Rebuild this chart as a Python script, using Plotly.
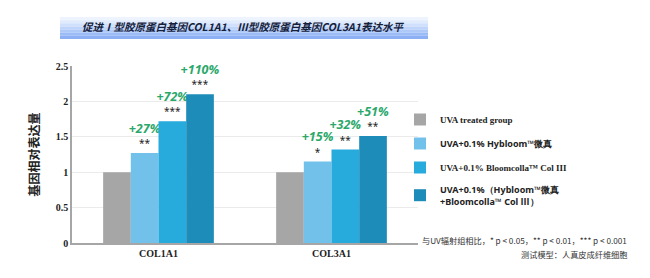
import plotly.graph_objects as go

categories = ["COL1A1", "COL3A1"]
series_names = [
    "<span style='font-family:Liberation Serif'><b>UVA treated group</b></span>",
    "<b>UVA+0.1% Hybloom™微真</b>",
    "<span style='font-family:Liberation Serif'><b>UVA+0.1% Bloomcolla™ Col III</b></span>",
    "<b>UVA+0.1%（Hybloom™微真<br>+Bloomcolla™ Col <span style='font-family:Noto Sans CJK SC'>Ⅲ</span>）</b>",
]
values = [
    [1.0, 1.0],
    [1.27, 1.15],
    [1.72, 1.32],
    [2.10, 1.51],
]
percent_labels = [
    ["", ""],
    ["+27%", "+15%"],
    ["+72%", "+32%"],
    ["+110%", "+51%"],
]
star_labels = [
    ["", ""],
    ["**", "*"],
    ["***", "**"],
    ["***", "**"],
]
colors = ["#A6A6A6", "#72C1EB", "#27AADC", "#1E8CB9"]
y_ticks = [0, 0.5, 1, 1.5, 2, 2.5]
y_tick_text = ["0", "0.5", "1", "1.5", "2", "2.5"]

# layout geometry (pixels)
W, H = 650, 278
ML, MR, MT, MB = 72, 232, 66, 35
PW, PH = W - ML - MR, H - MT - MB


def px(x):
    return (x - ML) / PW


def py(y):
    return (H - MB - y) / PH


fig = go.Figure()
for i in range(4):
    texts = []
    for j in range(len(categories)):
        if percent_labels[i][j]:
            texts.append(
                "<span style='color:#2AA86A;font-size:12.5px'><i><b>" + percent_labels[i][j]
                + "</b></i></span><br><span style='font-size:10px'>" + star_labels[i][j] + "</span>"
            )
        else:
            texts.append("")
    fig.add_trace(go.Bar(
        x=categories, y=values[i], name=series_names[i], legendgroup="g%d" % i,
        marker=dict(color=colors[i], line=dict(width=0)),
        text=texts, textposition="outside", cliponaxis=False, constraintext="none",
        textfont=dict(family="Noto Sans", size=11, color="#222222"),
        hoverinfo="skip",
    ))

fig.update_layout(
    width=W, height=H,
    margin=dict(l=ML, r=MR, t=MT, b=MB),
    paper_bgcolor="white", plot_bgcolor="white",
    barmode="group", bargap=0.36, bargroupgap=0,
    showlegend=True,
    legend=dict(
        x=px(400), y=py(105), xanchor="left", yanchor="top",
        font=dict(family="Noto Sans", size=9, color="#222222"),
        tracegroupgap=5, itemwidth=30, bgcolor="rgba(0,0,0,0)",
        traceorder="grouped",
    ),
    font=dict(family="Liberation Serif", color="#222222"),
)
fig.update_xaxes(
    showline=True, linecolor="#A6A6A6", linewidth=1.5,
    tickfont=dict(family="Liberation Serif", size=10, color="#222222"),
    ticks="", tickprefix="<b>", ticksuffix="</b>",
)
fig.update_yaxes(
    range=[0, 2.5], tickvals=y_ticks, ticktext=["<b>" + t + "</b>" for t in y_tick_text],
    showline=True, linecolor="#A6A6A6", linewidth=1.5,
    showgrid=True, gridcolor="#EBEBEB", gridwidth=1,
    zeroline=False,
    tickfont=dict(family="Liberation Serif", size=10, color="#222222"),
    title=dict(text="<b>基因相对表达量</b>", font=dict(family="Noto Sans CJK SC", size=12, color="#222222"), standoff=14),
)

# title banner (layered strips to imitate a vertical gradient)
strip_colors = ["#EEF4FE", "#E0EBFD", "#D0E0FC", "#BFD4FA", "#AEC8F8", "#9CBCF6", "#8CB0F3"]
top, bottom = 17, 39
n = len(strip_colors)
for k, c in enumerate(strip_colors):
    fig.add_shape(type="rect", xref="paper", yref="paper",
                  x0=px(60), x1=px(428),
                  y0=py(top + (bottom - top) * k / n), y1=py(top + (bottom - top) * (k + 1) / n),
                  fillcolor=c, line=dict(width=0), layer="below")

fig.add_annotation(
    xref="paper", yref="paper", x=px(243), y=py(27),
    text="<b><i>促进Ⅰ型胶原蛋白基因COL1A1、Ⅲ型胶原蛋白基因COL3A1表达水平</i></b>",
    showarrow=False, font=dict(family="Noto Sans CJK SC", size=10.5, color="#14203A"),
    xanchor="center", yanchor="middle",
)
fig.add_annotation(
    xref="paper", yref="paper", x=px(629), y=py(240),
    text="与UV辐射组相比，* p < 0.05，** p < 0.01，*** p < 0.001",
    showarrow=False, font=dict(family="Noto Sans CJK SC", size=8.2, color="#333333"),
    xanchor="right", yanchor="middle",
)
fig.add_annotation(
    xref="paper", yref="paper", x=px(629), y=py(254),
    text="测试模型：人真皮成纤维细胞",
    showarrow=False, font=dict(family="Noto Sans CJK SC", size=8.2, color="#333333"),
    xanchor="right", yanchor="middle",
)

fig.write_html("out.html")
